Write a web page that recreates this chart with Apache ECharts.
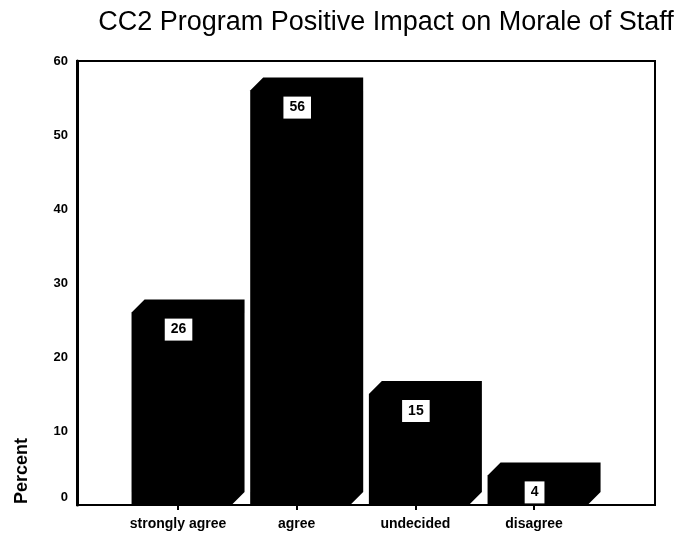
<!DOCTYPE html>
<html><head><meta charset="utf-8">
<script src="https://cdn.jsdelivr.net/npm/echarts@6/dist/echarts.min.js"></script>
<style>html,body{margin:0;padding:0;background:#fff}#c{width:681px;height:533px}</style>
</head><body><div id="c"></div>
<script>
const chartTitle = 'CC2 Program Positive Impact on Morale of Staff';
const categories = ['strongly agree', 'agree', 'undecided', 'disagree'];
const percents = [26, 56, 15, 4];
const yTicks = [0, 10, 20, 30, 40, 50, 60];
const yAxisName = 'Percent';

const FONT = '"Liberation Sans", Arial, sans-serif';
const yMin = yTicks[0], yMax = yTicks[yTicks.length - 1], yStep = yTicks[1] - yTicks[0];

function renderItem(params, api) {
  const i = api.value(0), v = api.value(1);
  const top = api.coord([i, v]);
  const base = api.coord([i, 0]);
  const cx = top[0] + 3.5, hw = 50, d = 13;
  return {
    type: 'group',
    children: [
      {
        type: 'polygon',
        shape: { points: [
          [cx - hw, base[1]], [cx - hw, top[1]], [cx - hw + d, top[1] - d],
          [cx + hw + d, top[1] - d], [cx + hw + d, base[1] - d], [cx + hw, base[1]]
        ] },
        style: { fill: '#000' }
      },
      {
        type: 'text', x: top[0] + 0.5, y: top[1] + 6, z2: 10,
        style: {
          text: String(v), fill: '#000', backgroundColor: '#fff', padding: [4, 6],
          font: 'bold 14px ' + FONT, lineHeight: 14, align: 'center', verticalAlign: 'top'
        }
      }
    ]
  };
}

const chart = echarts.init(document.getElementById('c'), null, { renderer: 'canvas' });
chart.setOption({
  animation: false,
  backgroundColor: '#fff',
  graphic: [
    { type: 'text', x: 386, y: 23, style: { text: chartTitle, font: '27px ' + FONT, fill: '#000', align: 'center', verticalAlign: 'middle' } },
    { type: 'text', x: 22, y: 471, rotation: Math.PI / 2, style: { text: yAxisName, font: 'bold 18px ' + FONT, fill: '#000', align: 'center', verticalAlign: 'middle' } }
  ],
  grid: [
    { left: 77, top: 61, width: 578, height: 444, show: true, borderColor: '#000', borderWidth: 2, backgroundColor: 'transparent' },
    { left: 118.7, top: 61, width: 474.7, height: 444 }
  ],
  xAxis: [
    { gridIndex: 0, type: 'value', show: false, min: 0, max: 1 },
    {
      gridIndex: 1, type: 'category', data: categories, boundaryGap: true,
      axisLine: { show: false },
      axisTick: { show: true, alignWithLabel: true, interval: 0, length: 5, lineStyle: { color: '#000', width: 2 } },
      axisLabel: { interval: 0, margin: 12, color: '#000', fontFamily: FONT, fontSize: 14, fontWeight: 'bold' }
    }
  ],
  yAxis: [
    {
      gridIndex: 0, type: 'value', min: yMin, max: yMax, interval: yStep,
      splitLine: { show: false },
      axisLine: { show: true, lineStyle: { color: '#000', width: 3 } },
      axisTick: { show: false },
      axisLabel: {
        margin: 9, color: '#000', fontFamily: FONT, fontSize: 13, fontWeight: 'bold',
        formatter: v => v === 0 ? '{z|0}' : String(v),
        rich: { z: { padding: [0, 0, 16, 0], color: '#000', fontFamily: FONT, fontSize: 13, fontWeight: 'bold' } }
      }
    },
    { gridIndex: 1, type: 'value', min: yMin, max: yMax, show: false, splitLine: { show: false } }
  ],
  series: [
    {
      type: 'custom', xAxisIndex: 1, yAxisIndex: 1, clip: false,
      renderItem: renderItem,
      data: percents.map((v, i) => [i, v])
    }
  ]
});
</script>
</body></html>
